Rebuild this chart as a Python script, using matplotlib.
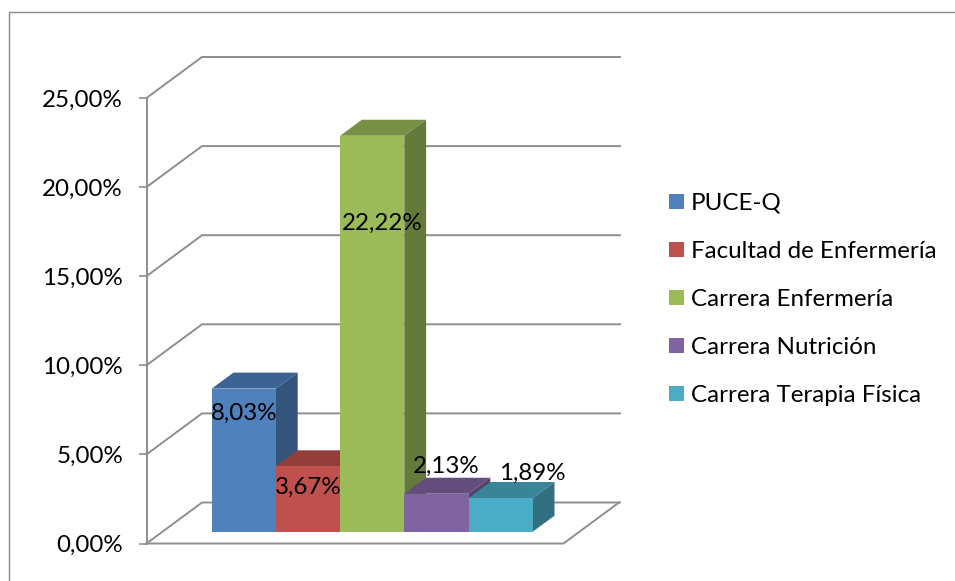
"""3D-look column chart drawn on a flat matplotlib axes."""

import matplotlib
matplotlib.use("Agg")
import matplotlib.pyplot as plt
from matplotlib.lines import Line2D
from matplotlib.patches import Patch, Polygon

categories = ["PUCE-Q", "Facultad de Enfermería", "Carrera Enfermería",
              "Carrera Nutrición", "Carrera Terapia Física"]
values = [8.03, 3.67, 22.22, 2.13, 1.89]
value_labels = ["8,03%", "3,67%", "22,22%", "2,13%", "1,89%"]
colors = ["#4F81BD", "#C0504D", "#9BBB59", "#8064A2", "#4BACC6"]
y_ticks = [0, 5, 10, 15, 20, 25]
y_tick_labels = ["0,00%", "5,00%", "10,00%", "15,00%", "20,00%", "25,00%"]

# label offsets from top-centre of each bar's front face, in pixels (down is positive)
label_dx = [0, 0, 10, 10, 32]
label_dy = [25, 21, 88, -27, -25]

W, H = 955, 581
PX_Y = 17.82    # pixels per percent
PX_X = 64.2     # pixels per bar
PT = 0.72       # points per pixel at dpi 100
ZERO_PX = 543.5
FIRST_BAR_PX = 243.8
GREY = "#8E8E8E"
FONT = "Lato"
FS = 17.4


def shade(color, factor):
    r, g, b = matplotlib.colors.to_rgb(color)
    return (r * factor, g * factor, b * factor)


fig = plt.figure(figsize=(W / 100, H / 100), dpi=100)
ax = fig.add_axes([0, 0, 1, 1])
ax.patch.set_visible(False)
ax.set_xlim(-FIRST_BAR_PX / PX_X, (W - FIRST_BAR_PX) / PX_X)
ax.set_ylim(-(H - ZERO_PX) / PX_Y, ZERO_PX / PX_Y)

# wall / floor geometry in data units
axis_x = (146.5 - FIRST_BAR_PX) / PX_X
wall_dx = 55.5 / PX_X
wall_dy = 41.0 / PX_Y
wall_right = (620 - FIRST_BAR_PX) / PX_X
floor_right = (563.5 - FIRST_BAR_PX) / PX_X
bar_lift = 11.8 / PX_Y
bar_dx = 21.8 / PX_X
bar_dy = 16.0 / PX_Y

# gridlines: side wall diagonal, then along the back wall
for t in y_ticks:
    ax.plot([axis_x, axis_x + wall_dx, wall_right],
            [t, t + wall_dy, t + wall_dy],
            color=GREY, lw=1.4, zorder=1, solid_joinstyle="miter")
# front edge of the floor
ax.plot([axis_x, floor_right, floor_right + wall_dx],
        [0, 0, wall_dy], color=GREY, lw=1.4, zorder=1)

# bars, left to right so later bars sit in front of earlier side faces
for i, (val, col) in enumerate(zip(values, colors)):
    left, right = i - 0.5, i + 0.5
    base, top = bar_lift, bar_lift + val
    ax.add_patch(Polygon(
        [(left, top), (right, top), (right + bar_dx, top + bar_dy), (left + bar_dx, top + bar_dy)],
        closed=True, facecolor=shade(col, 0.77), edgecolor="none", zorder=2 + i))
    ax.add_patch(Polygon(
        [(right, base), (right + bar_dx, base + bar_dy), (right + bar_dx, top + bar_dy), (right, top)],
        closed=True, facecolor=shade(col, 0.65), edgecolor="none", zorder=2 + i))
    ax.bar(i, val, width=1.0, bottom=base, color=col, linewidth=0, zorder=2 + i)

for i, val in enumerate(values):
    ax.annotate(value_labels[i], xy=(i, bar_lift + val),
                xytext=(label_dx[i] * PT, -label_dy[i] * PT),
                textcoords="offset points", ha="center", va="center",
                fontsize=FS, family=FONT, color="black", zorder=20)

# value axis
for name in ("top", "right", "bottom"):
    ax.spines[name].set_visible(False)
ax.spines["left"].set_position(("data", axis_x))
ax.spines["left"].set_bounds(0, 25)
ax.spines["left"].set_color(GREY)
ax.spines["left"].set_linewidth(1.4)
ax.set_xticks([])
ax.set_yticks(y_ticks)
ax.set_yticklabels(y_tick_labels, fontsize=FS, family=FONT, color="black")
ax.tick_params(axis="y", length=6, width=1.2, color=GREY, pad=11)

# legend
handles = [Patch(facecolor=c, edgecolor="none") for c in colors]
ax.legend(handles, categories, loc="center left", bbox_to_anchor=(669 / W, 1 - 299.5 / H),
          bbox_transform=fig.transFigure, frameon=False, borderpad=0, borderaxespad=0,
          prop={"family": FONT, "size": FS}, labelspacing=1.12,
          handlelength=0.62, handleheight=0.62, handletextpad=0.29)

# chart frame, only the top and left sides fall inside the image
FRAME = "#8A8A8A"
fig.add_artist(Line2D([8.5 / W, 8.5 / W, 1], [0, 1 - 11.5 / H, 1 - 11.5 / H],
                      color=FRAME, lw=1.0, transform=fig.transFigure))

fig.savefig("out.png", dpi=100)
plt.close(fig)
